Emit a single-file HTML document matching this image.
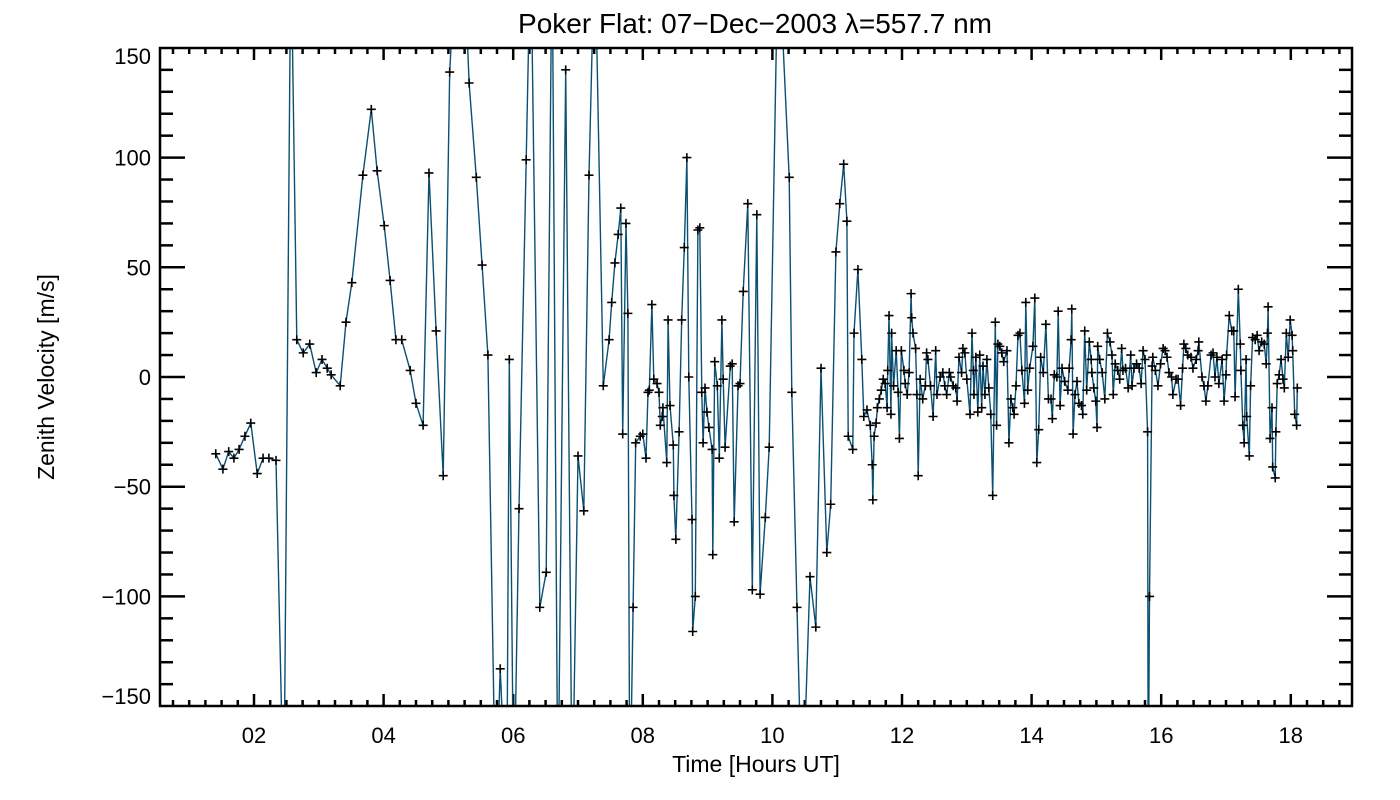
<!DOCTYPE html>
<html><head><meta charset="utf-8">
<style>
html,body{margin:0;padding:0;background:#fff;}
svg{display:block;font-family:"Liberation Sans",sans-serif;}
</style></head>
<body>
<svg id="chart" width="1400" height="800" viewBox="0 0 1400 800" xmlns="http://www.w3.org/2000/svg">
<rect width="1400" height="800" fill="#fff"/>
<text x="755" y="33" font-size="28" text-anchor="middle">Poker Flat: 07−Dec−2003 λ=557.7 nm</text>
<text x="756" y="772" font-size="23" text-anchor="middle">Time [Hours UT]</text>
<text transform="translate(54,377) rotate(-90)" font-size="23" text-anchor="middle">Zenith Velocity [m/s]</text>
<defs><clipPath id="plotclip"><rect x="160" y="48" width="1192" height="658"/></clipPath></defs>
<g id="ticks"></g>
<g id="series" clip-path="url(#plotclip)"></g>
<g id="markers" clip-path="url(#plotclip)"></g>
<rect x="160" y="48" width="1192" height="658" fill="none" stroke="#000" stroke-width="2.5"/>
</svg>
<script>
const xTickLabels = ["02","04","06","08","10","12","14","16","18"];
const xTickValues = [2,4,6,8,10,12,14,16,18];
const yTickValues = [-150,-100,-50,0,50,100,150];
const timeHours = [1.41,1.52,1.61,1.69,1.77,1.86,1.95,2.05,2.14,2.23,2.34,2.46,2.57,2.66,2.76,2.86,2.96,3.05,3.13,3.19,3.33,3.42,3.51,3.68,3.81,3.90,4.01,4.10,4.19,4.28,4.41,4.50,4.61,4.70,4.81,4.92,5.02,5.13,5.23,5.32,5.43,5.52,5.61,5.73,5.80,5.90,5.94,6.01,6.09,6.20,6.27,6.41,6.51,6.60,6.69,6.81,6.91,7.00,7.09,7.17,7.26,7.39,7.48,7.52,7.57,7.62,7.66,7.69,7.74,7.77,7.80,7.85,7.89,7.96,8.00,8.05,8.08,8.10,8.14,8.17,8.22,8.25,8.27,8.30,8.31,8.37,8.39,8.42,8.47,8.48,8.51,8.56,8.60,8.64,8.68,8.71,8.76,8.77,8.81,8.85,8.88,8.91,8.93,8.96,8.99,9.02,9.07,9.08,9.11,9.15,9.18,9.22,9.24,9.27,9.35,9.38,9.41,9.47,9.50,9.55,9.62,9.69,9.76,9.81,9.89,9.95,10.09,10.26,10.30,10.38,10.46,10.58,10.67,10.75,10.84,10.90,10.98,11.04,11.10,11.15,11.17,11.24,11.26,11.32,11.38,11.41,11.46,11.51,11.54,11.55,11.57,11.60,11.62,11.65,11.68,11.71,11.74,11.77,11.78,11.80,11.83,11.84,11.87,11.91,11.94,11.96,11.99,12.03,12.05,12.08,12.11,12.14,12.15,12.17,12.21,12.23,12.25,12.28,12.32,12.36,12.38,12.40,12.44,12.48,12.52,12.54,12.59,12.63,12.66,12.69,12.73,12.75,12.79,12.83,12.85,12.88,12.92,12.94,12.97,13.00,13.05,13.08,13.10,13.11,13.14,13.17,13.20,13.23,13.25,13.28,13.31,13.34,13.37,13.40,13.44,13.46,13.48,13.51,13.54,13.57,13.62,13.65,13.68,13.71,13.73,13.76,13.79,13.82,13.85,13.89,13.91,13.94,13.97,14.02,14.05,14.08,14.11,14.14,14.18,14.22,14.26,14.30,14.32,14.35,14.39,14.41,14.44,14.47,14.51,14.56,14.58,14.61,14.62,14.64,14.67,14.70,14.73,14.77,14.79,14.82,14.85,14.89,14.92,14.93,14.96,14.99,15.01,15.02,15.05,15.09,15.13,15.17,15.21,15.24,15.26,15.29,15.33,15.36,15.39,15.41,15.45,15.49,15.53,15.55,15.58,15.62,15.66,15.69,15.72,15.75,15.79,15.80,15.82,15.86,15.87,15.91,15.95,15.99,16.03,16.06,16.09,16.12,16.16,16.18,16.23,16.26,16.30,16.33,16.35,16.38,16.41,16.46,16.49,16.54,16.57,16.58,16.63,16.66,16.69,16.72,16.77,16.80,16.83,16.86,16.89,16.94,16.97,17.00,17.01,17.05,17.09,17.12,17.14,17.19,17.22,17.23,17.26,17.28,17.31,17.32,17.36,17.38,17.41,17.45,17.48,17.51,17.55,17.59,17.62,17.64,17.65,17.68,17.71,17.72,17.76,17.77,17.79,17.82,17.85,17.88,17.90,17.93,17.96,17.99,18.02,18.03,18.06,18.09,18.10];
const velocity = [-35,-42,-34,-37,-33,-27,-21,-44,-37,-37,-38,-200,200,17,11,15,2,8,4,1,-4,25,43,92,122,94,69,44,17,17,3,-12,-22,93,21,-45,139,200,200,134,91,51,10,-200,-133,-200,8,-200,-60,99,200,-105,-89,200,-200,140,-200,-36,-61,92,200,-4,17,34,52,65,77,-26,70,29,-200,-105,-30,-27,-26,-37,-7,-6,33,-1,-3,-7,-22,-18,-14,-39,26,-13,-31,-54,-74,-25,26,59,100,0,-65,-116,-100,67,68,-7,-30,-5,-16,-23,-33,-81,7,-4,-37,26,-1,-32,5,6,-66,-4,-3,39,79,-97,74,-99,-64,-32,200,91,-7,-105,-200,-91,-114,4,-80,-58,57,79,97,71,-27,-33,20,49,8,-18,-15,-22,-40,-56,-27,-21,-14,-10,-6,-1,-3,-14,3,28,-17,20,-4,12,-7,-28,12,3,-3,-8,2,38,27,20,13,-8,-45,-1,-10,-4,11,8,-4,-18,12,-8,0,2,-4,-8,2,0,-4,-5,-11,9,2,13,11,-1,-17,20,3,-8,9,-16,10,-14,5,-8,8,-5,-17,-54,25,-22,15,14,11,7,12,-30,-10,-14,-17,-4,19,20,3,-12,34,-6,4,14,36,-39,-24,9,2,24,-10,-10,-19,1,0,30,-13,4,-2,-6,4,17,31,-26,-8,-2,-12,-13,-17,21,-6,16,8,2,-5,-11,-23,14,8,2,-10,20,16,10,-8,6,3,-1,13,3,4,-5,10,-4,4,6,4,-3,12,8,-25,-200,-100,5,9,3,-4,6,13,12,9,2,0,-8,-1,-1,-13,4,15,13,10,9,4,8,12,16,0,-4,-11,-4,10,11,0,9,-3,8,-11,1,10,28,21,21,-9,40,15,3,-22,-30,8,-18,-36,-4,18,17,19,12,16,15,6,20,32,-28,-14,-41,-46,-25,-3,1,8,-1,-5,20,9,26,19,12,-17,-22,-5];

const NS = "http://www.w3.org/2000/svg";
const X0 = 124.4, XS = 64.8;
const Y0 = 377, YS = 2.194;
function xScale(h){ return X0 + XS*h; }
function yScale(v){ return Y0 - YS*v; }
function mk(tag, attrs){ const e=document.createElementNS(NS,tag); for(const k in attrs) e.setAttribute(k, attrs[k]); return e; }

const ticks = document.getElementById('ticks');
const L=160, R=1352, T=48, B=706;
for(let h=0.75; h<=18.9; h+=0.25){
  const x = xScale(h);
  if(x<=L+1||x>=R-1) continue;
  const major = Math.abs(h-Math.round(h/2)*2)<0.01;
  const len = major?12:6;
  const t1 = mk('line',{x1:x,x2:x,y1:B,y2:B-len,stroke:'#000','stroke-width':2.5});
  
  
  ticks.appendChild(t1);
  const t2 = mk('line',{x1:x,x2:x,y1:T,y2:T+len,stroke:'#000','stroke-width':2.5});
  
  
  ticks.appendChild(t2);
}
xTickValues.forEach((v,i)=>{
  const t = mk('text',{x:xScale(v),y:743,'font-size':22,'text-anchor':'middle'});
  t.textContent = xTickLabels[i];
  
  
  ticks.appendChild(t);
});
for(let v=-140; v<=140; v+=10){
  const y = yScale(v);
  const major = v%50===0;
  const len = major?25:13;
  const a = mk('line',{x1:L,x2:L+len,y1:y,y2:y,stroke:'#000','stroke-width':2.5});
  
  
  ticks.appendChild(a);
  const b = mk('line',{x1:R,x2:R-len,y1:y,y2:y,stroke:'#000','stroke-width':2.5});
  
  
  ticks.appendChild(b);
}
yTickValues.forEach(v=>{
  let y = yScale(v)+8;
  if(v===150) y = 64; if(v===-150) y = 704;
  const t = mk('text',{x:151,y:y,'font-size':22,'text-anchor':'end'});
  t.textContent = v<0 ? '−'+Math.abs(v) : String(v);
  
  
  ticks.appendChild(t);
});
const pts = timeHours.map((h,i)=>xScale(h).toFixed(1)+','+yScale(velocity[i]).toFixed(1)).join(' ');
const line = mk('polyline',{points:pts,fill:'none',stroke:'#0b4f73','stroke-width':1.4});


document.getElementById('series').appendChild(line);
const mg = document.getElementById('markers');
timeHours.forEach((h,i)=>{
  if(Math.abs(velocity[i])>=160) return;
  const x=xScale(h), y=yScale(velocity[i]);
  const p = mk('path',{d:`M${x-4.5},${y}H${x+4.5}M${x},${y-4.5}V${y+4.5}`,stroke:'#000','stroke-width':1.6,fill:'none'});
  
  
  mg.appendChild(p);
});
</script>
</body></html>
